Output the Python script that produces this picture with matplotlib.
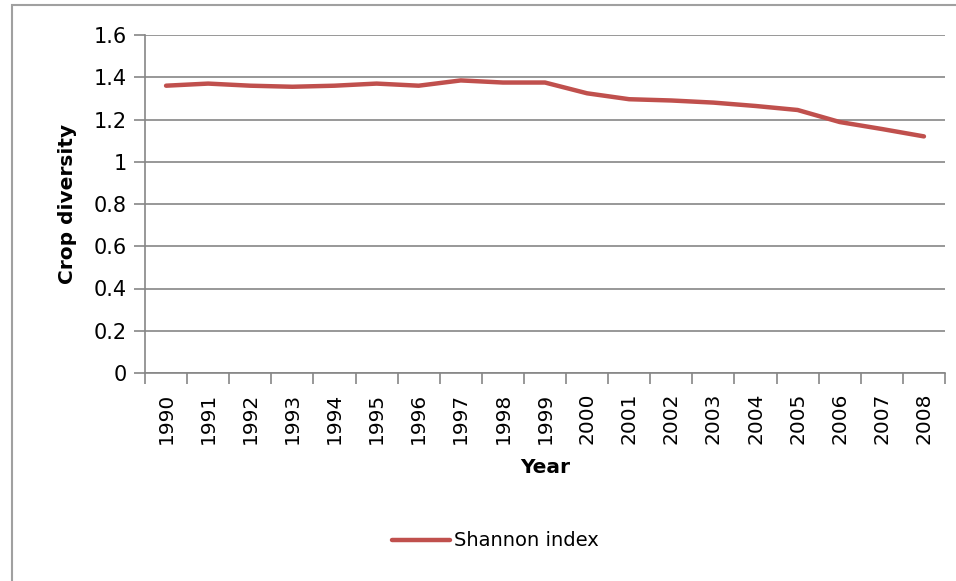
import matplotlib
matplotlib.use("Agg")
import matplotlib.pyplot as plt
from matplotlib.patches import Rectangle
import numpy as np

# data
years = [str(y) for y in range(1990, 2009)]
shannon = [1.36, 1.37, 1.36, 1.355, 1.36, 1.37, 1.36, 1.385, 1.375, 1.375,
           1.324, 1.296, 1.29, 1.28, 1.264, 1.245, 1.188, 1.155, 1.12]
yticks = [0, 0.2, 0.4, 0.6, 0.8, 1, 1.2, 1.4, 1.6]
ytick_labels = ["0", "0.2", "0.4", "0.6", "0.8", "1", "1.2", "1.4", "1.6"]

line_color = "#c0504d"
grid_color = "#868686"

fig = plt.figure(figsize=(9.56, 5.81), dpi=100)
W, H = 956, 581

# outer chart frame (only left and top edges fall inside the picture)
fig.patches.append(Rectangle((12 / W, -0.1), 1.2, 1.1 - 5 / H, transform=fig.transFigure,
                             fill=False, edgecolor="#a0a0a0", linewidth=1.5))

ax = fig.add_axes([145 / W, 1 - 373 / H, 800 / W, (373 - 35) / H])
x = np.arange(len(years))
ax.plot(x, shannon, color=line_color, linewidth=3.2, solid_capstyle="round",
        label="Shannon index")

ax.set_xlim(-0.5, len(years) - 0.5)
ax.set_ylim(0, 1.6)
ax.set_yticks(yticks)
ax.set_yticklabels(ytick_labels, fontsize=15)
ax.set_xticks(x)
ax.set_xticklabels(years, rotation=90, fontsize=14.5)
ax.set_xticks(np.arange(-0.5, len(years), 1), minor=True)
ax.tick_params(axis="x", which="major", length=0, pad=14)
ax.tick_params(axis="x", which="minor", length=8, color=grid_color, width=1.2)
ax.tick_params(axis="y", length=8, color=grid_color, width=1.2, pad=5)

ax.grid(axis="y", color=grid_color, linewidth=1.2)
ax.set_axisbelow(True)
for s in ["top", "right"]:
    ax.spines[s].set_visible(False)
for s in ["left", "bottom"]:
    ax.spines[s].set_color(grid_color)
    ax.spines[s].set_linewidth(1.2)

ax.set_xlabel("Year", fontsize=14.5, fontweight="bold", labelpad=10)
ax.set_ylabel("Crop diversity", fontsize=14.5, fontweight="bold", labelpad=12)

fig.legend(loc="center", bbox_to_anchor=(495 / W, 1 - 541 / H), frameon=False,
           fontsize=14, handlelength=3, handletextpad=0.2)

fig.savefig("out.png", dpi=100)
